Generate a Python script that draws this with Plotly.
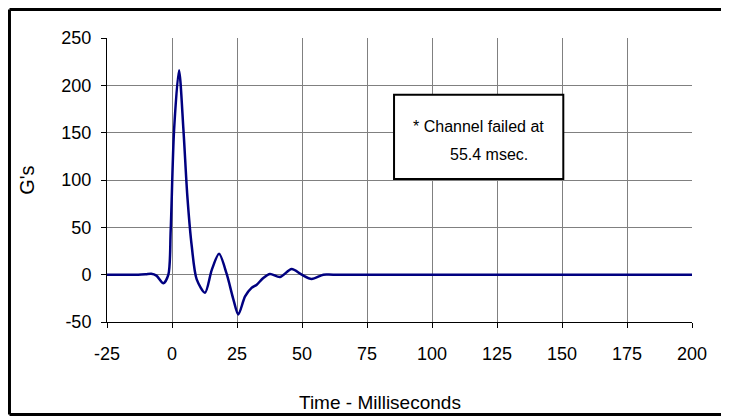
import plotly.graph_objects as go

# Accelerometer trace (time in ms, acceleration in G's)
time_ms = [-25, -13, -10, -8, -6, -3.3, -1.4, -0.5, 0.8, 2.7, 4.4, 5.9, 7.6, 9.5,
           12.7, 15.3, 18.1, 21, 23.6, 25.5, 28.1, 30.6, 32.6, 35.1, 37.7, 41.5,
           46, 49.9, 53.7, 58.2, 62, 200]
gees = [0, 0, 0.5, 1, -1, -9, 0, 47, 153, 216, 153, 83, 30, -5,
        -19, 5, 22, 1, -26, -42, -23, -14, -10.6, -3.5, 0.7, -2.5,
        6, 0, -4.6, 0, 0, 0]

x_ticks = [-25, 0, 25, 50, 75, 100, 125, 150, 175, 200]
y_ticks = [-50, 0, 50, 100, 150, 200, 250]

NOTE_1 = "* Channel failed at"
NOTE_2 = "55.4 msec."
X_TITLE = "Time - Milliseconds"
Y_TITLE = "G's"

FONT = "Liberation Sans, Arial, sans-serif"

fig = go.Figure()
fig.add_trace(go.Scatter(
    x=time_ms, y=gees, mode="lines",
    line=dict(color="#000080", width=2.5, shape="spline", smoothing=0.8),
    hoverinfo="skip",
))

tick_font = dict(family=FONT, size=18, color="black")
axis_style = dict(
    showgrid=True, gridcolor="#808080", gridwidth=1,
    showline=True, linecolor="black", linewidth=1,
    ticks="outside", ticklen=5, tickcolor="black",
    tickfont=tick_font, zeroline=False,
)

fig.update_xaxes(range=[-25, 200], tickvals=x_ticks,
                 ticktext=[str(v) for v in x_ticks],
                 ticklabelstandoff=10, **axis_style)
fig.update_yaxes(range=[-50, 250], tickvals=y_ticks,
                 ticktext=[str(v) for v in y_ticks],
                 ticklabelstandoff=6, **axis_style)

# axis titles placed as annotations (the x title sits left of centre)
fig.add_annotation(x=0.467, y=-0.285, xref="paper", yref="paper",
                   text=X_TITLE, showarrow=False, yanchor="middle",
                   font=dict(family=FONT, size=19, color="black"))
fig.add_annotation(x=-0.137, y=0.5, xref="paper", yref="paper",
                   text=Y_TITLE, showarrow=False, textangle=-90,
                   xanchor="center", yanchor="middle",
                   font=dict(family=FONT, size=20, color="black"))

# note box
fig.add_shape(type="rect", xref="x", yref="y", x0=85.4, x1=150.5, y0=101, y1=190,
              line=dict(color="black", width=2), fillcolor="white", layer="above")
fig.add_annotation(x=118, y=157, xref="x", yref="y", text=NOTE_1,
                   showarrow=False, xanchor="center",
                   font=dict(family=FONT, size=16, color="black"))
fig.add_annotation(x=122, y=127, xref="x", yref="y", text=NOTE_2,
                   showarrow=False, xanchor="center",
                   font=dict(family=FONT, size=16, color="black"))

# outer frame (left, top, bottom; open on the right)
frame = dict(color="black", width=3)
for x0, y0, x1, y1 in [(-0.1667, -0.3257, -0.1667, 1.1004),
                       (-0.1667, 1.1004, 1.1, 1.1004),
                       (-0.1667, -0.3257, 1.1, -0.3257)]:
    fig.add_shape(type="line", xref="paper", yref="paper",
                  x0=x0, y0=y0, x1=x1, y1=y1, line=frame)

# page body has an 8px margin, so the figure is sized to end at the window edge
fig.update_layout(
    width=721, height=409,
    margin=dict(l=99, r=37, t=30, b=95),
    plot_bgcolor="white", paper_bgcolor="white",
    showlegend=False,
)

fig.write_html("out.html")
